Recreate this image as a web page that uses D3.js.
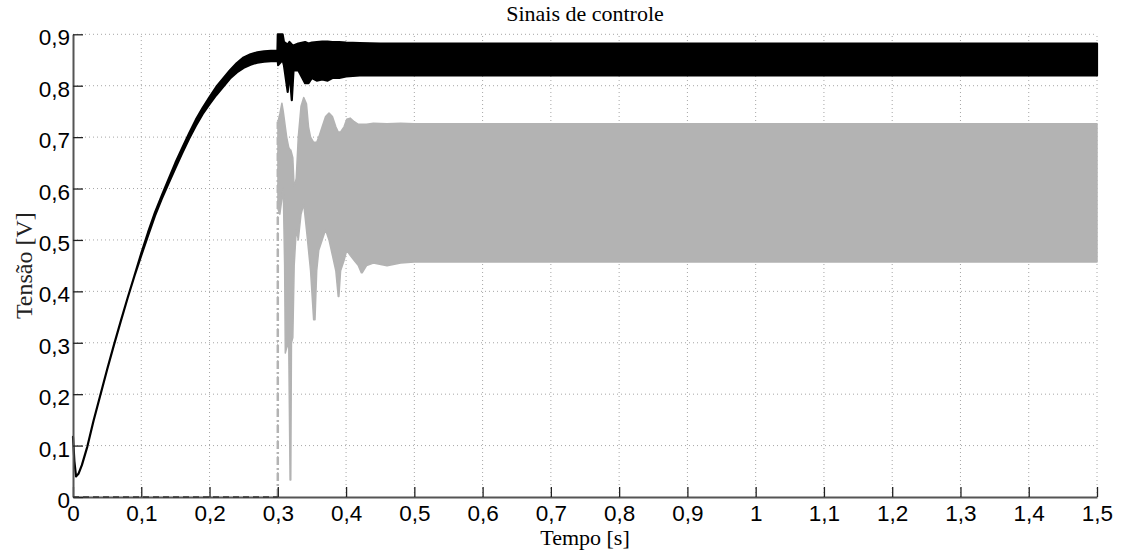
<!DOCTYPE html>
<html>
<head>
<meta charset="utf-8">
<script src="https://cdn.jsdelivr.net/npm/d3@7"></script>
<style>
  html, body { margin: 0; padding: 0; background: #fff; }
  svg { display: block; }
</style>
</head>
<body>
<svg id="chart" width="1121" height="550"></svg>
<script>
// ---------- data ----------
const title = "Sinais de controle";
const xLabel = "Tempo [s]";
const yLabel = "Tensão [V]";

const xTicks = [0, 0.1, 0.2, 0.3, 0.4, 0.5, 0.6, 0.7, 0.8, 0.9, 1.0, 1.1, 1.2, 1.3, 1.4, 1.5];
const xTickLabels = ["0", "0,1", "0,2", "0,3", "0,4", "0,5", "0,6", "0,7", "0,8", "0,9", "1", "1,1", "1,2", "1,3", "1,4", "1,5"];
const yTicks = [0, 0.1, 0.2, 0.3, 0.4, 0.5, 0.6, 0.7, 0.8, 0.9];
const yTickLabels = ["0", "0,1", "0,2", "0,3", "0,4", "0,5", "0,6", "0,7", "0,8", "0,9"];

// Control signal 1 (black): envelope (max / min) of the signal over time
const blackT = [0, 0.002, 0.0044, 0.008, 0.013, 0.021, 0.03, 0.04, 0.05, 0.06, 0.07, 0.08, 0.09, 0.1, 0.11, 0.12, 0.13, 0.14, 0.15, 0.16, 0.17, 0.18, 0.19, 0.2, 0.21, 0.22, 0.23, 0.24, 0.25, 0.26, 0.27, 0.28, 0.29, 0.2995,
  0.3, 0.3005, 0.307, 0.309, 0.3145, 0.317, 0.3205, 0.323, 0.33, 0.34, 0.345, 0.35, 0.357, 0.365, 0.373, 0.38, 0.39, 0.40, 0.42, 0.45, 0.5, 0.7, 0.9, 1.1, 1.3, 1.5];
const blackMax = [0.117, 0.07, 0.040, 0.045, 0.062, 0.098, 0.148, 0.198, 0.248, 0.296, 0.342, 0.387, 0.43, 0.474, 0.515, 0.553, 0.586, 0.618, 0.65, 0.679, 0.707, 0.734, 0.757, 0.778, 0.798, 0.814, 0.83, 0.844, 0.855, 0.861, 0.865, 0.867, 0.868, 0.868,
  0.9, 0.9, 0.9, 0.885, 0.88, 0.885, 0.88, 0.878, 0.882, 0.885, 0.882, 0.884, 0.885, 0.886, 0.886, 0.885, 0.885, 0.884, 0.883, 0.882, 0.882, 0.882, 0.882, 0.882, 0.882, 0.882];
const blackMin = [0.117, 0.07, 0.040, 0.045, 0.062, 0.098, 0.148, 0.198, 0.248, 0.296, 0.342, 0.387, 0.43, 0.470, 0.509, 0.547, 0.580, 0.610, 0.640, 0.669, 0.697, 0.722, 0.745, 0.764, 0.782, 0.798, 0.814, 0.826, 0.835, 0.841, 0.845, 0.847, 0.848, 0.848,
  0.848, 0.84, 0.85, 0.84, 0.788, 0.83, 0.772, 0.83, 0.83, 0.805, 0.805, 0.815, 0.81, 0.812, 0.81, 0.815, 0.815, 0.818, 0.82, 0.82, 0.82, 0.82, 0.82, 0.82, 0.82, 0.82];

// Control signal 2 (gray, dash-dot): zero until 0.3 s, then oscillating band
const grayZeroT = [0, 0.3];
const grayZeroV = [0, 0];
const grayStepT = [0.3, 0.3];
const grayStepV = [0, 0.73];
const grayT = [0.3002, 0.303, 0.306, 0.308, 0.310, 0.311, 0.313, 0.316, 0.318, 0.319, 0.320, 0.322, 0.324, 0.327, 0.330, 0.334, 0.338, 0.342, 0.345, 0.348, 0.3525, 0.3545, 0.357, 0.360, 0.365, 0.370, 0.375, 0.380, 0.385, 0.3885, 0.3895, 0.392, 0.397, 0.401, 0.406, 0.412, 0.418, 0.4225, 0.4235, 0.43, 0.44, 0.46, 0.48, 0.5, 0.7, 0.9, 1.1, 1.3, 1.5];
const grayMax = [0.73, 0.745, 0.766, 0.75, 0.73, 0.72, 0.70, 0.68, 0.675, 0.675, 0.67, 0.66, 0.60, 0.62, 0.70, 0.76, 0.777, 0.765, 0.72, 0.70, 0.69, 0.69, 0.69, 0.70, 0.72, 0.74, 0.747, 0.74, 0.72, 0.71, 0.71, 0.71, 0.72, 0.735, 0.737, 0.73, 0.725, 0.725, 0.725, 0.725, 0.727, 0.726, 0.727, 0.726, 0.726, 0.726, 0.726, 0.726, 0.726];
const grayMin = [0.56, 0.55, 0.58, 0.60, 0.45, 0.28, 0.29, 0.30, 0.033, 0.033, 0.30, 0.31, 0.45, 0.52, 0.50, 0.55, 0.57, 0.52, 0.48, 0.44, 0.345, 0.345, 0.44, 0.48, 0.50, 0.52, 0.50, 0.47, 0.44, 0.39, 0.39, 0.44, 0.46, 0.48, 0.47, 0.46, 0.45, 0.436, 0.436, 0.45, 0.455, 0.45, 0.455, 0.457, 0.457, 0.457, 0.457, 0.457, 0.457];

// ---------- layout ----------
const svg = d3.select("#chart");
const mLeft = 73, mRight = 1097, mTop = 34.3, mBottom = 497;
const x = d3.scaleLinear().domain([0, 1.5]).range([mLeft, mRight]);
const y = d3.scaleLinear().domain([0, 0.9]).range([mBottom, mTop]);

const tickFont = "'Liberation Sans', Arial, Helvetica, sans-serif";
const serifFont = "'Liberation Serif', 'Times New Roman', serif";

// grid
const grid = svg.append("g").attr("class", "grid");
grid.selectAll("line.gx").data(xTicks.slice(1)).enter().append("line")
  .attr("x1", d => x(d)).attr("x2", d => x(d))
  .attr("y1", y(0)).attr("y2", y(0.9))
  .attr("stroke", "#a6a6a6").attr("stroke-width", 1).attr("stroke-dasharray", "1,3");
grid.selectAll("line.gy").data(yTicks.slice(1)).enter().append("line")
  .attr("x1", x(0)).attr("x2", x(1.5))
  .attr("y1", d => y(d)).attr("y2", d => y(d))
  .attr("stroke", "#a6a6a6").attr("stroke-width", 1).attr("stroke-dasharray", "1,3");

// gray series
const grayData = grayT.map((t, i) => ({ t, hi: grayMax[i], lo: grayMin[i] }));
const area = d3.area().x(d => x(d.t)).y0(d => y(d.lo)).y1(d => y(d.hi));
const line = d3.line().x(d => x(d[0])).y(d => y(d[1]));

svg.append("path")
  .attr("d", line(grayStepT.map((t, i) => [t, grayStepV[i]])))
  .attr("fill", "none").attr("stroke", "#b3b3b3").attr("stroke-width", 2.5)
  .attr("stroke-dasharray", "8,3,2,3");
svg.append("path")
  .attr("d", area(grayData))
  .attr("fill", "#b3b3b3").attr("stroke", "#b3b3b3").attr("stroke-width", 1.5)
  .attr("stroke-linejoin", "round");

// black series
const blackData = blackT.map((t, i) => ({ t, hi: blackMax[i], lo: blackMin[i] }));
svg.append("path")
  .attr("d", area(blackData))
  .attr("fill", "#000").attr("stroke", "#000").attr("stroke-width", 2.2)
  .attr("stroke-linejoin", "round");

// axes
const xAxis = d3.axisBottom(x).tickValues(xTicks)
  .tickFormat((d, i) => xTickLabels[i]).tickSizeInner(-10).tickSizeOuter(0).tickPadding(8);
const yAxis = d3.axisLeft(y).tickValues(yTicks)
  .tickFormat((d, i) => yTickLabels[i]).tickSizeInner(-10).tickSizeOuter(0).tickPadding(3);

const gx = svg.append("g").attr("transform", `translate(0,${mBottom})`).call(xAxis);
const gy = svg.append("g").attr("transform", `translate(${mLeft},0)`).call(yAxis);
[gx, gy].forEach(g => {
  g.select(".domain").attr("stroke", "#555").attr("stroke-width", 2);
  g.selectAll(".tick line").attr("stroke", "#222").attr("stroke-width", 1.3);
  g.selectAll(".tick text").attr("font-family", tickFont).attr("font-size", 22.5).attr("fill", "#000");
});
gy.selectAll(".tick text").attr("dy", "0.47em");

// gray zero segment drawn over axis
svg.append("path")
  .attr("d", line(grayZeroT.map((t, i) => [t, grayZeroV[i]])))
  .attr("fill", "none").attr("stroke", "#333").attr("stroke-width", 1.5)
  .attr("stroke-dasharray", "6,4");

// labels
svg.append("text").attr("x", (mLeft + mRight) / 2).attr("y", 21)
  .attr("text-anchor", "middle").attr("font-family", serifFont).attr("font-size", 22)
  .text(title);
svg.append("text").attr("x", (mLeft + mRight) / 2).attr("y", 545)
  .attr("text-anchor", "middle").attr("font-family", serifFont).attr("font-size", 22)
  .text(xLabel);
svg.append("text").attr("transform", `translate(32,${(mTop + mBottom) / 2}) rotate(-90)`)
  .attr("text-anchor", "middle").attr("font-family", serifFont).attr("font-size", 24)
  .attr("fill", "#222")
  .text(yLabel);
</script>
</body>
</html>
